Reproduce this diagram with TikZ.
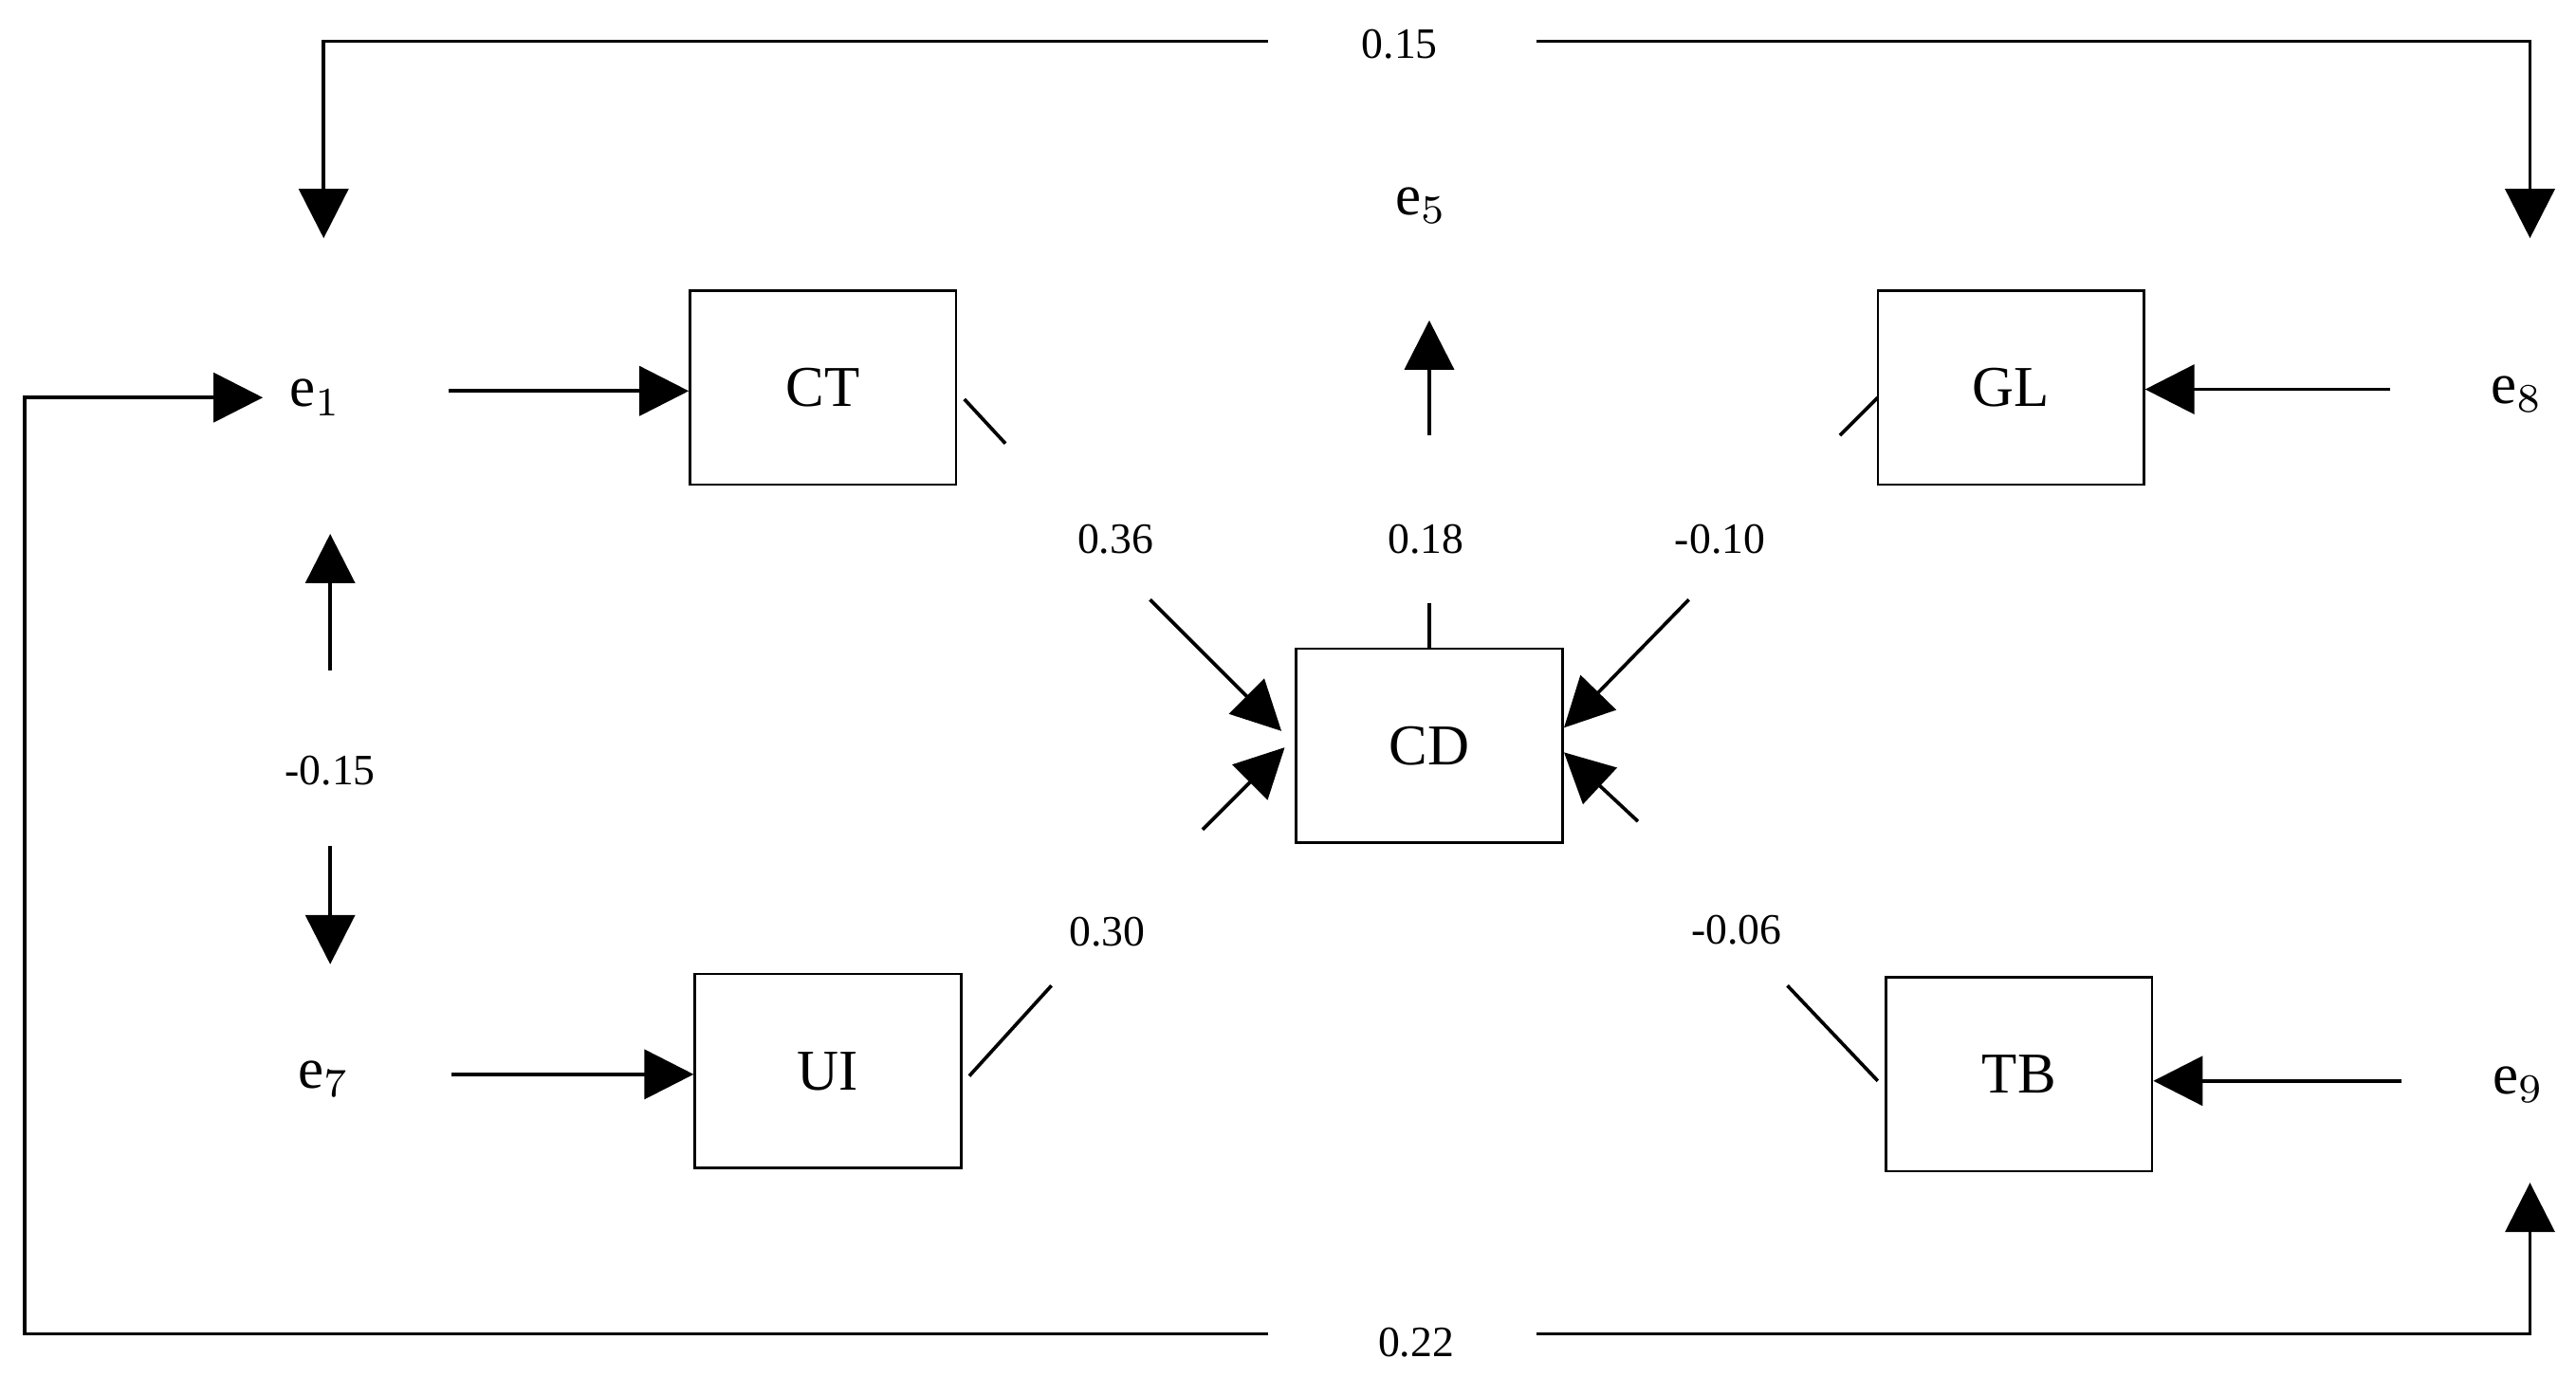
\documentclass[tikz,border=0pt]{standalone}
\usepackage{fontspec}
\setmainfont{Liberation Serif}
\usetikzlibrary{arrows.meta}
\begin{document}
\begin{tikzpicture}[x=0.01cm,y=-0.01cm,
  box/.style={draw,minimum width=1.62cm,minimum height=1.18cm,font=\fontsize{10}{12}\selectfont},
  ev/.style={font=\fontsize{10}{12}\selectfont},
  num/.style={font=\fontsize{7.5}{9}\selectfont},
  arr/.style={-{Triangle[length=0.3cm,width=0.3cm]},line width=0.6pt},
  ln/.style={line width=0.6pt}]
\useasboundingbox (0,0) rectangle (1568,838);
\node[box] (CT) at (501,236) {CT};
\node[box] (GL) at (1224,236) {GL};
\node[box] (CD) at (870,454) {CD};
\node[box] (UI) at (504,652) {UI};
\node[box] (TB) at (1229,654) {TB};
\node[ev] (e1) at (192,242) {e$_1$};
\node[ev] (e5) at (865,125) {e$_5$};
\node[ev] (e7) at (197,657) {e$_7$};
\node[ev] (e8) at (1532,240) {e$_8$};
\node[ev] (e9) at (1533,660) {e$_9$};
\node[num] (n15) at (852,27) {0.15};
\node[num] (n22) at (862,817) {0.22};
\node[num] (nm15) at (201,469) {-0.15};
\node[num] (n36) at (679,328) {0.36};
\node[num] (n18) at (868,328) {0.18};
\node[num] (nm10) at (1047,328) {-0.10};
\node[num] (n30) at (674,567) {0.30};
\node[num] (nm06) at (1057,566) {-0.06};
\coordinate (t1) at (772,25);
\coordinate (t2) at (935,25);
\coordinate (b1) at (772,812);
\coordinate (b2) at (935,812);
% top loop
\draw[arr] (t1) -| (197,145);
\draw[arr] (t2) -| (1540,145);
% bottom loop
\draw[arr] (b1) -| (15,242) -- (160,242);
\draw[arr] (b2) -| (1540,720);
% e to boxes
\draw[arr] (273,238) -- (CT.west|-273,238);
\draw[arr] (275,654) -- (UI.west|-275,654);
\draw[arr] (1455,237) -- (GL.east|-1455,237);
\draw[arr] (1462,658) -- (TB.east|-1462,658);
% e1 e7 correlation
\draw[arr] (201,408) -- (201,325);
\draw[arr] (201,515) -- (201,587);
% CD to e5
\draw[ln] (CD.north) -- (870,367);
\draw[arr] (870,265) -- (870,195);
% paths to CD
\draw[ln] (587,243) -- (612,270);
\draw[arr] (700,365) -- (780,445);
\draw[ln] (1120,265) -- (1143,242);
\draw[arr] (1028,365) -- (952,443);
\draw[ln] (590,655) -- (640,600);
\draw[arr] (732,505) -- (782,455);
\draw[ln] (1143,658) -- (1088,600);
\draw[arr] (997,500) -- (952,458);
\end{tikzpicture}
\end{document}
